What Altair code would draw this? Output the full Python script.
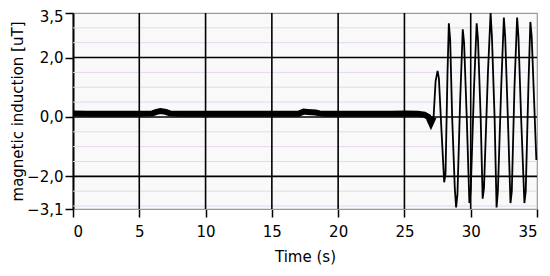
import altair as alt
import pandas as pd

# Quiet (noisy) part of the signal
t_flat = [0.05, 1.0, 2.0, 3.0, 4.0, 5.0, 6.0, 6.3, 6.6, 7.0, 7.3, 8.0, 9.0, 10.0, 11.0,
          12.0, 13.0, 14.0, 15.0, 16.0, 17.0, 17.4, 17.7, 18.3, 18.6, 19.0, 20.0, 21.0,
          22.0, 23.0, 24.0, 25.0, 26.0, 26.5, 26.8, 27.0, 27.2]
v_flat = [0.12, 0.11, 0.11, 0.11, 0.11, 0.11, 0.12, 0.17, 0.2, 0.17, 0.12, 0.11, 0.11,
          0.11, 0.11, 0.11, 0.11, 0.11, 0.11, 0.11, 0.11, 0.18, 0.17, 0.15, 0.12, 0.11,
          0.11, 0.11, 0.11, 0.11, 0.11, 0.12, 0.11, 0.08, 0.0, -0.2, 0.0]

# Oscillating part of the signal
t_osc = [27.2, 27.35, 27.5, 27.6, 27.8, 28.0, 28.1, 28.25, 28.35, 28.45, 28.6, 28.8,
         28.9, 29.0, 29.2, 29.4, 29.5, 29.7, 29.9, 30.0, 30.25, 30.45, 30.55, 30.75,
         30.9, 31.0, 31.3, 31.5, 31.6, 31.8, 31.95, 32.05, 32.3, 32.5, 32.6, 32.8, 33.0,
         33.1, 33.3, 33.5, 33.6, 33.8, 34.05, 34.15, 34.35, 34.5, 34.6, 34.95]
v_osc = [0.0, 1.2, 1.55, 1.3, -0.5, -2.2, -1.9, 1.5, 3.15, 2.6, 0.0, -2.4,
         -3.05, -2.6, 0.5, 2.95, 2.5, 0.0, -2.9, -2.5, 1.0, 3.15, 2.6, 0.0,
         -2.75, -2.4, 1.5, 3.5, 2.7, 0.0, -3.05, -2.5, 1.0, 3.35, 2.7, 0.0, -2.9,
         -2.5, 1.0, 3.35, 2.7, 0.0, -2.9, -2.5, 1.0, 3.2, 2.7, -1.45]

x_ticks = [0, 5, 10, 15, 20, 25, 30, 35]
y_ticks = [3.5, 2.0, 0.0, -2.0, -3.1]
y_major_grid = [2.0, 0.0, -2.0]
x_major_grid = [5, 10, 15, 20, 25, 30]
y_minor_grid = [3.0, 2.5, 1.5, 1.0, 0.5, -0.5, -1.0, -1.5, -2.5, -3.0]

FONT = "DejaVu Sans"

xs = alt.Scale(domain=[0, 35], nice=False, zero=False)
ys = alt.Scale(domain=[-3.1, 3.5], nice=False, zero=False)

flat_df = pd.DataFrame({"t": t_flat, "v": v_flat})
osc_df = pd.DataFrame({"t": t_osc, "v": v_osc})

minor = alt.Chart(pd.DataFrame({"y": y_minor_grid})).mark_rule(
    color="#e6d6ef", strokeWidth=1
).encode(y=alt.Y("y:Q", scale=ys))

hmajor = alt.Chart(pd.DataFrame({"y": y_major_grid})).mark_rule(
    color="black", strokeWidth=1.6
).encode(y=alt.Y("y:Q", scale=ys))

vmajor = alt.Chart(pd.DataFrame({"x": x_major_grid})).mark_rule(
    color="black", strokeWidth=1.6
).encode(x=alt.X("x:Q", scale=xs))

flat = alt.Chart(flat_df).mark_line(color="black", strokeWidth=6, strokeJoin="miter").encode(
    x=alt.X("t:Q", scale=xs),
    y=alt.Y("v:Q", scale=ys),
)

osc = alt.Chart(osc_df).mark_line(color="black", strokeWidth=1.8).encode(
    x=alt.X(
        "t:Q", scale=xs,
        axis=alt.Axis(
            values=x_ticks, title="Time (s)", grid=False, format="d",
            domainColor="#9a9a9a", domainWidth=1, tickColor="black", tickWidth=1.5,
            tickSize=8, labelPadding=7, labelFontSize=15, labelFont=FONT,
            labelColor="black", titleFont=FONT, titleFontSize=15,
            titleFontWeight="normal", titleColor="black", titlePadding=10,
        ),
    ),
    y=alt.Y(
        "v:Q", scale=ys,
        axis=alt.Axis(
            values=y_ticks, title="magnetic induction [uT]", grid=False,
            labelExpr="replace(format(datum.value, '.1f'), '.', ',')",
            labelOffset={"condition": {"test": "datum.value == 3.5", "value": 3}, "value": 0},
            domainColor="black", domainWidth=2, tickColor="black", tickWidth=1.5,
            tickSize=8, labelPadding=2, labelFontSize=15, labelFont=FONT,
            labelColor="black", titleFont=FONT, titleFontSize=15,
            titleFontWeight="normal", titleColor="black",
            titleX=-51, titleBaseline="alphabetic",
        ),
    ),
)

chart = alt.layer(minor, hmajor, vmajor, flat, osc).properties(
    width=464,
    height=196,
    autosize=alt.AutoSizeParams(type="none"),
    padding={"left": 65, "top": 5, "right": 5, "bottom": 59},
    background="white",
).configure_view(
    fill="#f9f9f9", stroke="#9a9a9a", strokeWidth=1.2
)

chart.save("out.html", embed_options={"renderer": "svg", "actions": False})
